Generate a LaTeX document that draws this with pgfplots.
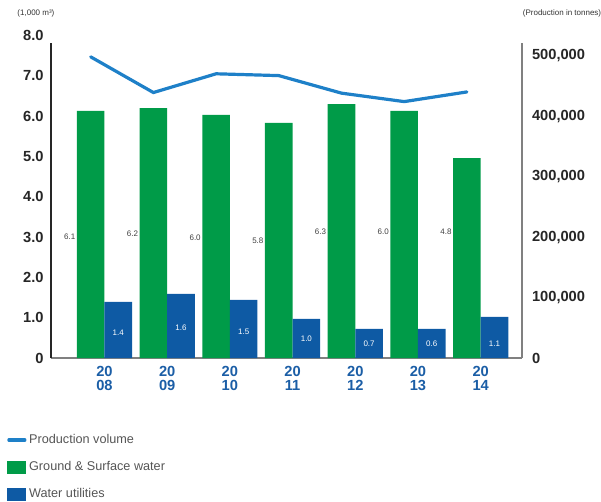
\documentclass[border=0pt]{standalone}
\usepackage{pgfplots}
\pgfplotsset{compat=1.18}
\usepackage{fontspec}
\setmainfont{Liberation Sans}
\definecolor{gr}{RGB}{0,155,72}
\definecolor{bl}{RGB}{14,90,164}
\definecolor{ln}{RGB}{30,128,200}
\definecolor{yr}{RGB}{27,94,166}
\definecolor{lab}{RGB}{85,85,85}
\begin{document}
\begin{tikzpicture}[x=0.75pt,y=0.75pt]
\path[use as bounding box] (0,0) rectangle (601,501);
\begin{axis}[
  at={(38.25pt,107.25pt)}, anchor=south west, scale only axis,
  width=353.25pt, height=241.875pt,
  xmin=-0.853, xmax=6.659, ymin=0, ymax=8,
  clip=false,
  axis y line*=left, axis x line*=bottom,
  y axis line style={black!85, line width=0.8pt, shorten >=5.5pt},
  x axis line style={black!50, line width=0.8pt},
  major tick length=0pt,
  xtick={0,...,6},
  xticklabels={{20\\08},{20\\09},{20\\10},{20\\11},{20\\12},{20\\13},{20\\14}},
  xticklabel style={align=center, text=yr, font=\fontsize{11}{10.5}\selectfont\bfseries, yshift=-3pt},
  ytick={0,1,...,8},
  yticklabels={0,1.0,2.0,3.0,4.0,5.0,6.0,7.0,8.0},
  yticklabel style={font=\fontsize{11}{12}\selectfont\bfseries, text=black!85, xshift=-2pt},
  /pgf/number format/assume math mode=true,
  legend style={at={(-0.0934,-0.228)}, anchor=north west, draw=none, fill=none,
    inner sep=0pt, font=\fontsize{9.5}{11}\selectfont, text=lab, row sep=7.8pt,
    cells={anchor=west}},
  legend cell align=left,
]
\addlegendimage{legend image code/.code={\draw[ln, line width=2.4pt, line cap=round] (1pt,0pt) -- (13pt,0pt);}}
\addlegendentry{Production volume}
\addlegendimage{legend image code/.code={\fill[gr] (0pt,-4.5pt) rectangle (13.5pt,4.5pt);}}
\addlegendentry{Ground \& Surface water}
\addlegendimage{legend image code/.code={\fill[bl] (0pt,-4.5pt) rectangle (13.5pt,4.5pt);}}
\addlegendentry{Water utilities}

\addplot[ybar, bar width=0.44, bar shift=-0.22, fill=gr, draw=none, forget plot] coordinates {
(0,6.13) (1,6.20) (2,6.03) (3,5.83) (4,6.30) (5,6.13) (6,4.96)};
\addplot[ybar, bar width=0.44, bar shift=0.22, fill=bl, draw=none, forget plot] coordinates {
(0,1.39) (1,1.59) (2,1.44) (3,0.97) (4,0.72) (5,0.72) (6,1.02)};

\addplot[draw=none, mark=none, forget plot, nodes near coords, point meta=explicit symbolic,
  nodes near coords style={anchor=east, inner sep=1pt, text=black!75, font=\fontsize{6}{7}\selectfont}]
  table[meta=l] {
x y l
-0.44 3.00 6.1
0.56 3.08 6.2
1.56 2.98 6.0
2.56 2.90 5.8
3.56 3.13 6.3
4.56 3.13 6.0
5.56 3.13 4.8
};
\addplot[draw=none, mark=none, forget plot, nodes near coords, point meta=explicit symbolic,
  nodes near coords style={anchor=center, inner sep=0pt, text=white, font=\fontsize{6}{7}\selectfont}]
  table[meta=l] {
x y l
0.22 0.62 1.4
1.22 0.74 1.6
2.22 0.65 1.5
3.22 0.47 1.0
4.22 0.35 0.7
5.22 0.35 0.6
6.22 0.35 1.1
};
\node[font=\fontsize{6}{7}\selectfont, text=black!80] at (rel axis cs:-0.032,1.067) {(1,000 m³)};
\end{axis}
\begin{axis}[
  at={(38.25pt,107.25pt)}, anchor=south west, scale only axis,
  width=353.25pt, height=241.875pt,
  xmin=-0.853, xmax=6.659, ymin=0, ymax=533333,
  clip=false, scaled y ticks=false,
  axis y line*=right, axis x line=none,
  y axis line style={black!50, line width=0.8pt, shorten >=5.5pt},
  major tick length=0pt,
  ytick={0,100000,200000,300000,400000,500000},
  yticklabels={0,{100,000},{200,000},{300,000},{400,000},{500,000}},
  yticklabel style={font=\fontsize{11}{12}\selectfont\bfseries, text=black!85, xshift=4pt},
  /pgf/number format/assume math mode=true,
]
\addplot[ln, line width=2.4pt, line cap=round, mark=none] coordinates {
(-0.22,498000) (0.78,439000) (1.78,470000) (2.78,467000) (3.78,438000) (4.78,424000) (5.78,440000)};
\node[font=\fontsize{6}{7}\selectfont, text=black!80] at (rel axis cs:1.085,1.067) {(Production in tonnes)};
\end{axis}
\end{tikzpicture}
\end{document}
